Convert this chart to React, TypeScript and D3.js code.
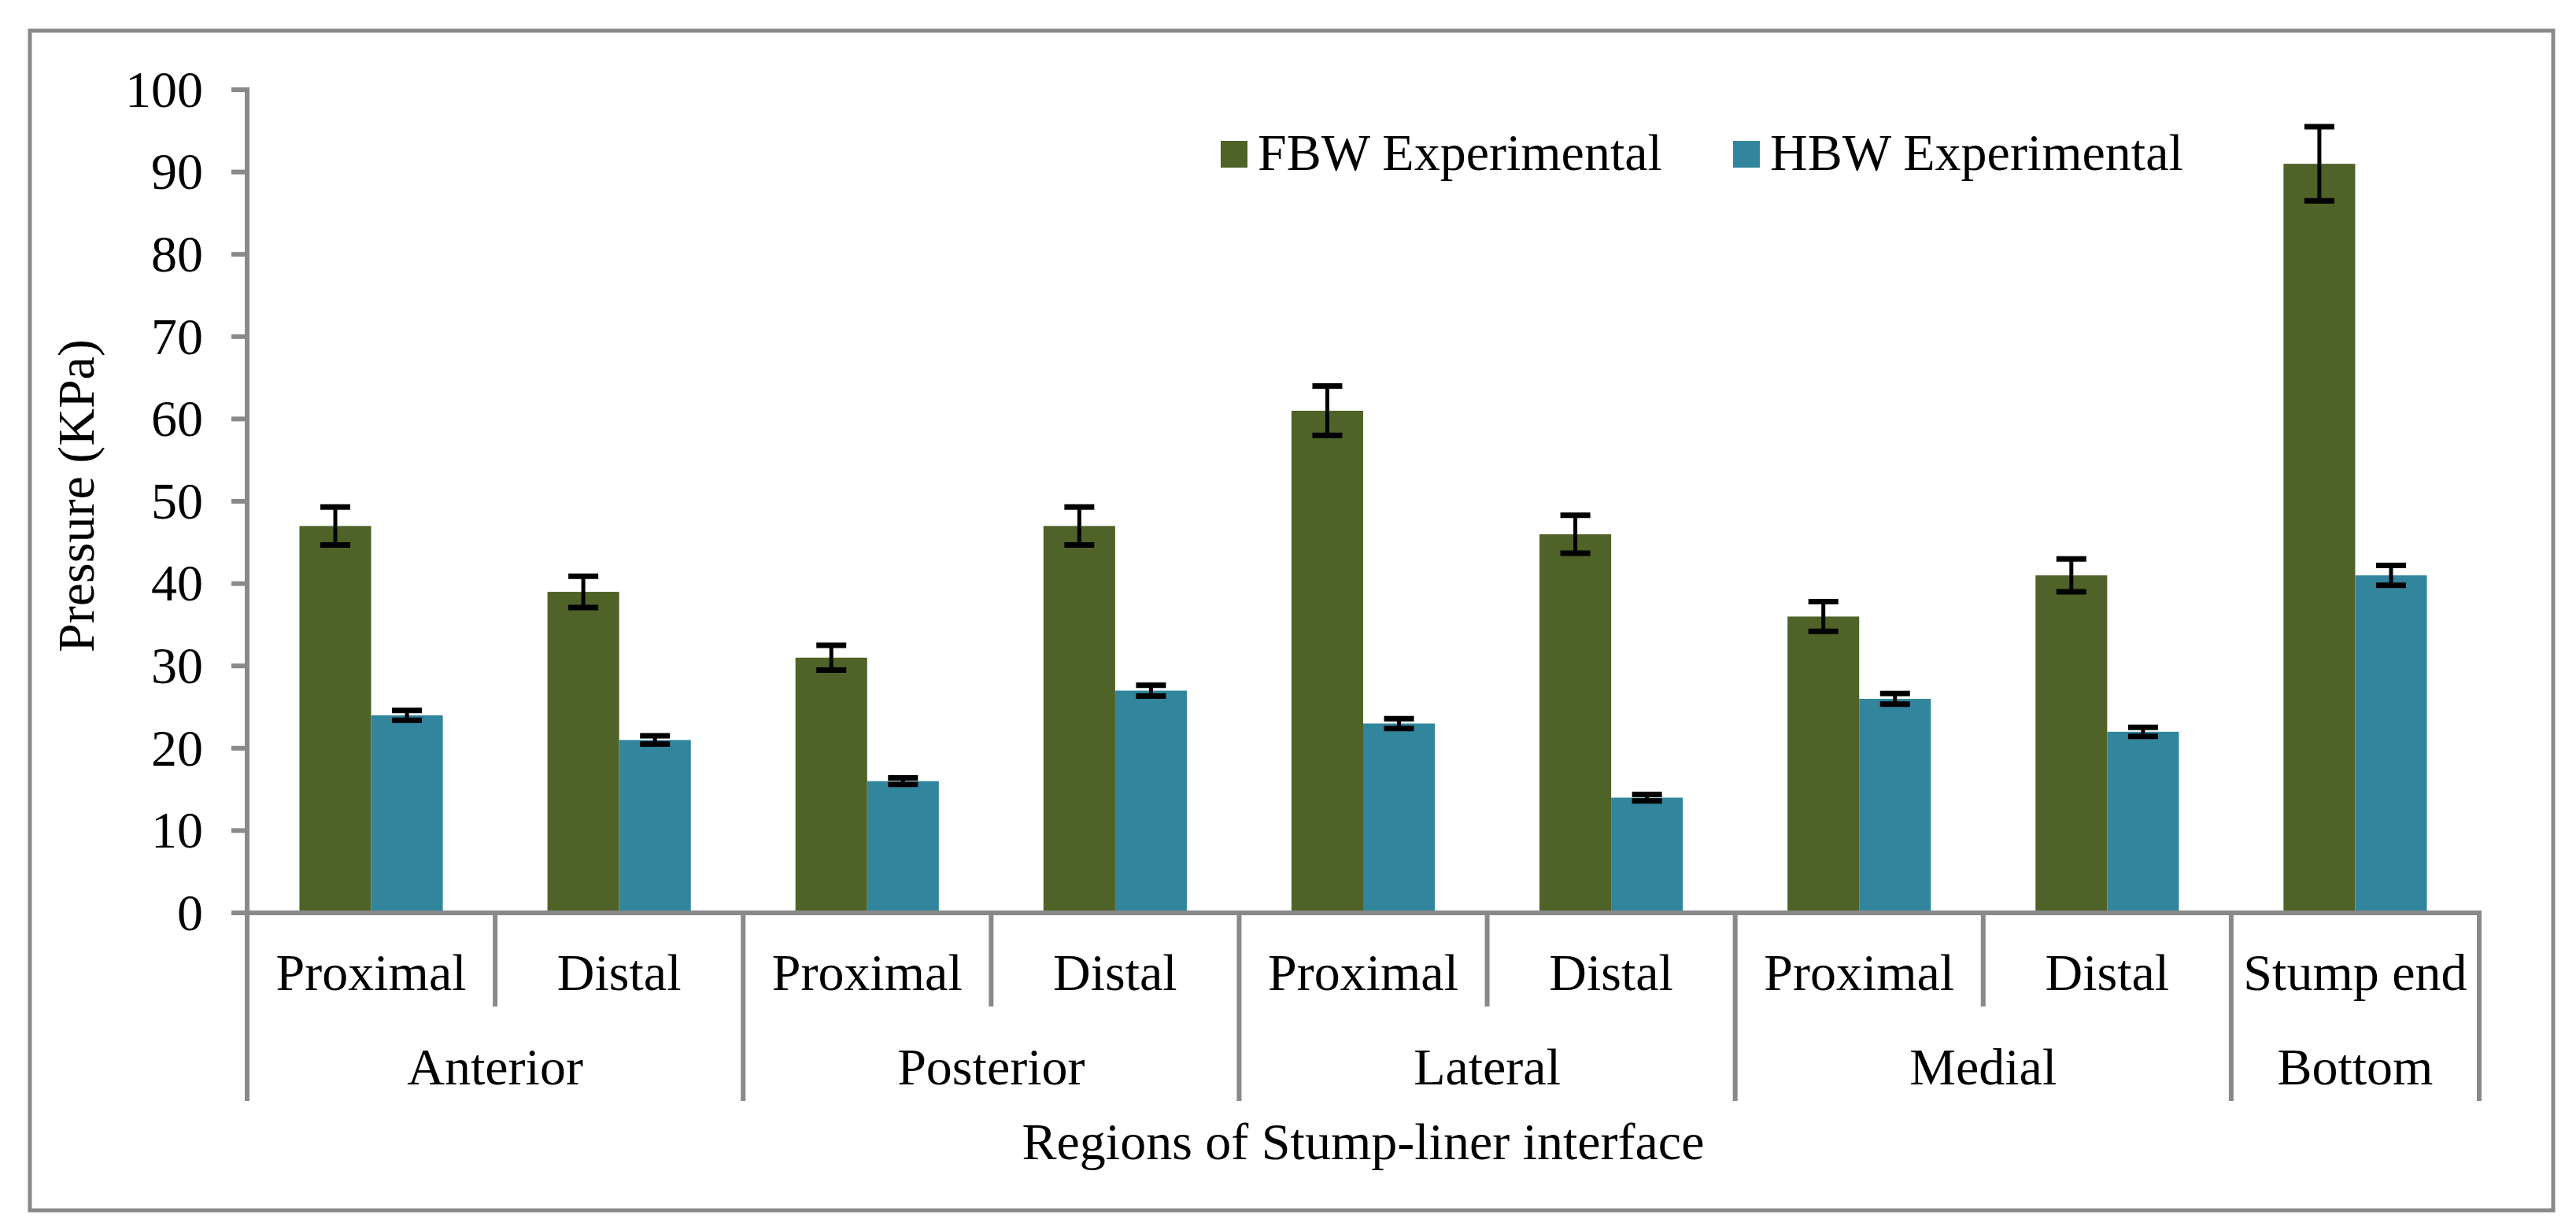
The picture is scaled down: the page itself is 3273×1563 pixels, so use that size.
import * as d3 from 'd3';

const subCategories = ['Proximal', 'Distal', 'Proximal', 'Distal', 'Proximal', 'Distal', 'Proximal', 'Distal', 'Stump end'];
const groupNames = ['Anterior', 'Posterior', 'Lateral', 'Medial', 'Bottom'];
const groupSizes = [2, 2, 2, 2, 1];
const seriesNames = ['FBW Experimental', 'HBW Experimental'];
const fbwValues = [47, 39, 31, 47, 61, 46, 36, 41, 91];
const hbwValues = [24, 21, 16, 27, 23, 14, 26, 22, 41];
const fbwErrors = [2.3, 1.9, 1.5, 2.3, 3.0, 2.3, 1.8, 2.0, 4.5];
const hbwErrors = [0.6, 0.5, 0.4, 0.65, 0.6, 0.4, 0.65, 0.55, 1.2];
const yTicks = [0, 10, 20, 30, 40, 50, 60, 70, 80, 90, 100];

const colors = ['#4F6228', '#31859C'];
const gray = '#898989';
const font = '"Liberation Serif", "Times New Roman", serif';
const W = 3273;
const H = 1563;

export default function App() {
  const left = 314;
  const right = 3150;
  const base = 1160;
  const top = 114;

  const x = d3.scaleBand<number>().domain(d3.range(subCategories.length)).range([left, right]);
  const inner = d3.scaleBand<string>().domain(seriesNames).range([0, x.bandwidth()]).paddingOuter(0.73);
  const y = d3.scaleLinear([0, 100], [base, top]);

  const series = [
    { name: seriesNames[0], values: fbwValues, errors: fbwErrors, color: colors[0] },
    { name: seriesNames[1], values: hbwValues, errors: hbwErrors, color: colors[1] },
  ];

  // group boundaries (in category index units)
  const groupStarts = groupSizes.map((_, i) => d3.sum(groupSizes.slice(0, i)));
  const boundaryX = (i: number) => (i >= subCategories.length ? right : (x(i) as number));

  const capW = 38;
  const fs = 66;

  return (
    <svg width={W} height={H} style={{ position: 'absolute', left: 0, top: 0, display: 'block', background: '#fff' }} fontFamily={font}>
      <rect x={0} y={0} width={W} height={H} fill="#fff" />
      <rect x={38} y={39} width={3244 - 38} height={1538 - 39} fill="none" stroke={gray} strokeWidth={5} />

      {/* bars */}
      {series.map((s) => (
        <g key={s.name}>
          {s.values.map((v, i) => (
            <rect
              key={i}
              x={(x(i) as number) + (inner(s.name) as number)}
              y={y(v)}
              width={inner.bandwidth()}
              height={base - y(v)}
              fill={s.color}
            />
          ))}
        </g>
      ))}

      {/* error bars */}
      {series.map((s) => (
        <g key={s.name + '-err'} stroke="#000" strokeWidth={7}>
          {s.values.map((v, i) => {
            const cx = (x(i) as number) + (inner(s.name) as number) + inner.bandwidth() / 2;
            const y1 = y(v + s.errors[i]);
            const y2 = y(v - s.errors[i]);
            return (
              <g key={i}>
                <line x1={cx} x2={cx} y1={y1} y2={y2} strokeWidth={5} />
                <line x1={cx - capW / 2} x2={cx + capW / 2} y1={y1} y2={y1} />
                <line x1={cx - capW / 2} x2={cx + capW / 2} y1={y2} y2={y2} />
              </g>
            );
          })}
        </g>
      ))}

      {/* y axis */}
      <line x1={left} x2={left} y1={top - 3} y2={base} stroke={gray} strokeWidth={6} />
      {yTicks.map((t) => (
        <g key={t}>
          <line x1={left - 20} x2={left} y1={y(t)} y2={y(t)} stroke={gray} strokeWidth={6} />
          <text x={258} y={y(t)} dy="0.33em" textAnchor="end" fontSize={fs} fill="#000">
            {t}
          </text>
        </g>
      ))}
      <text
        transform={`translate(119, 630) rotate(-90)`}
        textAnchor="middle"
        fontSize={fs}
        fill="#000"
      >
        Pressure (KPa)
      </text>

      {/* x axis */}
      <line x1={left - 20} x2={right + 3} y1={base} y2={base} stroke={gray} strokeWidth={6} />
      {d3.range(1, subCategories.length).filter((i) => !groupStarts.includes(i)).map((i) => (
        <line key={'m' + i} x1={boundaryX(i)} x2={boundaryX(i)} y1={base} y2={1279} stroke={gray} strokeWidth={6} />
      ))}
      {[...groupStarts, subCategories.length].map((i) => (
        <line key={'g' + i} x1={boundaryX(i)} x2={boundaryX(i)} y1={base} y2={1399} stroke={gray} strokeWidth={6} />
      ))}
      {subCategories.map((c, i) => (
        <text key={'c' + i} x={(x(i) as number) + x.bandwidth() / 2} y={1258} textAnchor="middle" fontSize={fs} fill="#000">
          {c}
        </text>
      ))}
      {groupNames.map((g, gi) => {
        const x0 = boundaryX(groupStarts[gi]);
        const x1 = boundaryX(groupStarts[gi] + groupSizes[gi]);
        return (
          <text key={g} x={(x0 + x1) / 2} y={1378} textAnchor="middle" fontSize={fs} fill="#000">
            {g}
          </text>
        );
      })}
      <text x={(left + right) / 2} y={1473} textAnchor="middle" fontSize={fs} fill="#000">
        Regions of Stump-liner interface
      </text>

      {/* legend */}
      {series.map((s, i) => {
        const lx = [1551, 2202][i];
        return (
          <g key={s.name + '-leg'}>
            <rect x={lx} y={179} width={34} height={34} fill={s.color} />
            <text x={lx + 47} y={216} fontSize={fs} fill="#000">
              {s.name}
            </text>
          </g>
        );
      })}
    </svg>
  );
}
